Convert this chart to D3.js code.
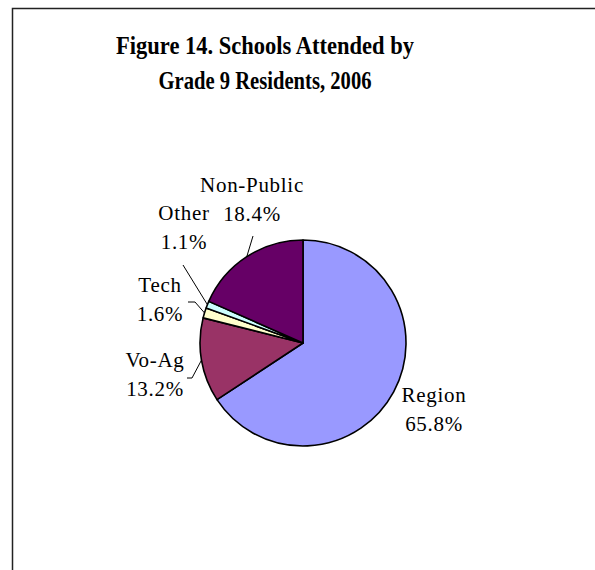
<!DOCTYPE html>
<html>
<head>
<meta charset="utf-8">
<script src="https://cdn.jsdelivr.net/npm/d3@7"></script>
<style>
  html, body { margin: 0; padding: 0; background: #fff; }
  svg { display: block; }
</style>
</head>
<body>
<svg id="chart" width="595" height="570"></svg>
<script>
// Schools attended by grade 9 residents, 2006 (percent of students)
const categories = ["Region", "Vo-Ag", "Tech", "Other", "Non-Public"];
const shares = [65.8, 13.2, 1.6, 1.1, 18.4];
const sliceColors = ["#9999FF", "#993366", "#FFFFCC", "#CCFFFF", "#660066"];
const titleLines = ["Figure 14. Schools Attended by", "Grade 9 Residents, 2006"];

// Label placement: centre x and first baseline, plus the leader-line start point (if any)
const labelLayout = [
  { x: 434, y: 402, leader: null },
  { x: 155, y: 367, leader: [[187, 378], [192, 378]] },
  { x: 160, y: 292, leader: [[188, 302], [195, 302]] },
  { x: 184, y: 220, leader: [[183, 265]] },
  { x: 252, y: 192, leader: [[253, 236]] }
];
// Title line widths (condensed title face)
const titleWidths = [298, 213];

const svg = d3.select("#chart");

// Chart-area frame
svg.append("rect")
  .attr("x", 12.5).attr("y", 8.5)
  .attr("width", 700).attr("height", 700)
  .attr("fill", "#fff")
  .attr("stroke", "#222")
  .attr("stroke-width", 1.5);

// Title
titleLines.forEach((t, i) => {
  svg.append("text")
    .attr("x", 265 - titleWidths[i] / 2)
    .attr("y", 54 + i * 35)
    .attr("font-family", "'Liberation Serif', 'Times New Roman', serif")
    .attr("font-weight", "bold")
    .attr("font-size", 25)
    .attr("fill", "#000")
    .attr("textLength", titleWidths[i])
    .attr("lengthAdjust", "spacingAndGlyphs")
    .text(t);
});

// Pie
const cx = 303, cy = 343, r = 103;
const data = categories.map((c, i) => ({ name: c, value: shares[i], color: sliceColors[i], layout: labelLayout[i] }));
const pie = d3.pie().value(d => d.value).sort(null).startAngle(0).endAngle(2 * Math.PI);
const arcs = pie(data);
const arc = d3.arc().innerRadius(0).outerRadius(r);

const g = svg.append("g").attr("transform", `translate(${cx},${cy})`);
g.selectAll("path.slice")
  .data(arcs)
  .join("path")
  .attr("class", "slice")
  .attr("d", arc)
  .attr("fill", d => d.data.color)
  .attr("stroke", "#000")
  .attr("stroke-width", 1.6)
  .attr("stroke-linejoin", "round");

// Leader lines: from label to the slice edge at its mid angle
const line = d3.line();
arcs.forEach(a => {
  const lay = a.data.layout;
  if (!lay.leader) return;
  const mid = (a.startAngle + a.endAngle) / 2;
  const edge = [cx + r * Math.sin(mid), cy - r * Math.cos(mid)];
  svg.append("path")
    .attr("d", line(lay.leader.concat([edge])))
    .attr("fill", "none")
    .attr("stroke", "#000")
    .attr("stroke-width", 1);
});

// Data labels
const fmt = d3.format(".1f");
arcs.forEach(a => {
  const lay = a.data.layout;
  const t = svg.append("text")
    .attr("text-anchor", "middle")
    .attr("font-family", "'Liberation Serif', 'Times New Roman', serif")
    .attr("font-size", 21)
    .attr("letter-spacing", 0.7)
    .attr("fill", "#000");
  t.append("tspan").attr("x", lay.x).attr("y", lay.y).text(a.data.name);
  t.append("tspan").attr("x", lay.x).attr("y", lay.y + 29).text(fmt(a.data.value) + "%");
});
</script>
</body>
</html>
